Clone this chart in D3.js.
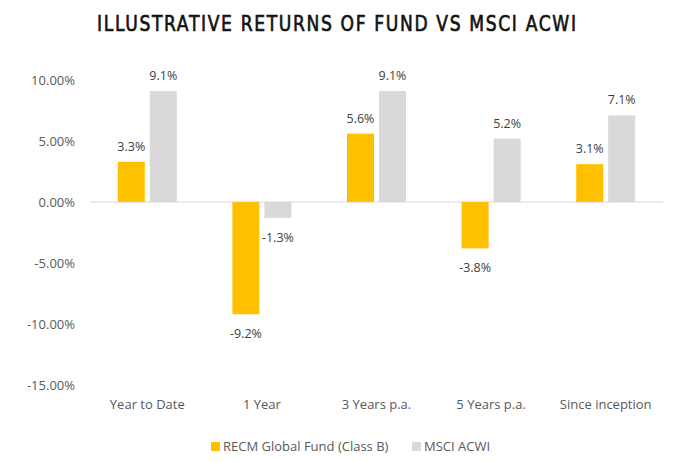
<!DOCTYPE html>
<html>
<head>
<meta charset="utf-8">
<script src="https://cdn.jsdelivr.net/npm/d3@7"></script>
<style>
  body { margin: 0; background: #fff; }
  text { font-family: "Open Sans", "Liberation Sans", sans-serif; }
</style>
</head>
<body>
<div id="chart"></div>
<script>
const categories = ["Year to Date", "1 Year", "3 Years p.a.", "5 Years p.a.", "Since inception"];
const fundValues = [3.3, -9.2, 5.6, -3.8, 3.1];
const acwiValues = [9.1, -1.3, 9.1, 5.2, 7.1];
const seriesNames = ["RECM Global Fund (Class B)", "MSCI ACWI"];
const yTicks = [-15, -10, -5, 0, 5, 10];

const width = 699, height = 462;
const margin = { top: 80, right: 36, bottom: 77, left: 90 };
const colors = ["#FFC000", "#D9D9D9"];

const svg = d3.select("#chart").append("svg")
    .attr("width", width)
    .attr("height", height);

// Title - narrow glyphs, wide letter spacing (squeezed horizontally)
const sx = 0.78;
svg.append("text")
    .attr("transform", `translate(97,31) scale(${sx},1)`)
    .attr("textLength", 479 / sx)
    .attr("lengthAdjust", "spacing")
    .attr("fill", "#111")
    .attr("stroke", "#111")
    .attr("stroke-width", 0.7)
    .style("font-family", "'DejaVu Sans', sans-serif")
    .style("font-size", "22px")
    .text("ILLUSTRATIVE RETURNS OF FUND VS MSCI ACWI");

const x = d3.scaleBand()
    .domain(categories)
    .range([margin.left, width - margin.right]);

const x1 = d3.scaleBand()
    .domain([0, 1])
    .range([x.bandwidth() / 2 - 29.5, x.bandwidth() / 2 + 29.5])
    .paddingInner(0.156);

const y = d3.scaleLinear()
    .domain([-15, 10])
    .range([height - margin.bottom, margin.top]);

// Y axis labels
svg.append("g")
    .attr("transform", `translate(${margin.left - 12},0)`)
    .call(d3.axisLeft(y).tickValues(yTicks).tickSize(0).tickFormat(d => d.toFixed(2) + "%"))
    .call(g => g.select(".domain").remove())
    .selectAll("text")
    .attr("fill", "#595959")
    .style("font-size", "13px");

// Zero line
svg.append("line")
    .attr("x1", margin.left)
    .attr("x2", width - margin.right)
    .attr("y1", y(0))
    .attr("y2", y(0))
    .attr("stroke", "#D9D9D9")
    .attr("stroke-width", 1);

const groups = svg.selectAll(".cat")
    .data(categories)
    .enter()
    .append("g")
    .attr("transform", d => `translate(${x(d)},0)`);

[fundValues, acwiValues].forEach((vals, s) => {
    groups.append("rect")
        .attr("x", x1(s))
        .attr("width", x1.bandwidth())
        .attr("y", (d, i) => y(Math.max(0, vals[i])))
        .attr("height", (d, i) => Math.abs(y(vals[i]) - y(0)))
        .attr("fill", colors[s]);

    groups.append("text")
        .attr("x", x1(s) + x1.bandwidth() / 2)
        .attr("y", (d, i) => vals[i] >= 0 ? y(vals[i]) - 11 : y(vals[i]) + 24)
        .attr("text-anchor", "middle")
        .attr("fill", "#404040")
        .style("font-size", "12.5px")
        .text((d, i) => vals[i].toFixed(1) + "%");
});

// Category labels
svg.append("g")
    .attr("transform", `translate(0,${height - margin.bottom + 12})`)
    .call(d3.axisBottom(x).tickSize(0))
    .call(g => g.select(".domain").remove())
    .selectAll("text")
    .attr("fill", "#595959")
    .style("font-size", "13px");

// Legend
const legendX = [211, 412];
seriesNames.forEach((name, i) => {
    const g = svg.append("g").attr("transform", `translate(${legendX[i]},442)`);
    g.append("rect").attr("width", 9).attr("height", 9).attr("fill", colors[i]);
    g.append("text")
        .attr("x", 12)
        .attr("y", 9)
        .attr("fill", "#595959")
        .style("font-size", "13px")
        .text(name);
});
</script>
</body>
</html>
